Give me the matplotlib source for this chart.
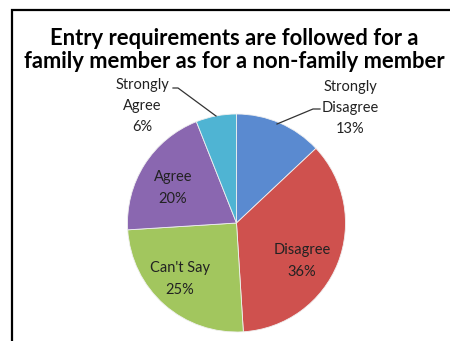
import matplotlib
matplotlib.use("Agg")
import matplotlib.pyplot as plt
from matplotlib.patches import Rectangle

categories = ["Strongly\nDisagree", "Disagree", "Can't Say", "Agree", "Strongly\nAgree"]
values = [13, 36, 25, 20, 6]
colors = ["#5A8AD0", "#CF514E", "#A2C65E", "#8A67B0", "#4FB4D3"]
title = "Entry requirements are followed for a\nfamily member as for a non-family member"

W, H = 450, 341
fig = plt.figure(figsize=(W / 100, H / 100), dpi=100)
fig.patch.set_facecolor("white")

# frame around the chart area
fig.patches.append(Rectangle((12 / W, -0.05), 1.0, (H - 10) / H + 0.05,
                             transform=fig.transFigure, fill=False,
                             edgecolor="black", linewidth=1.6))

fig.text(234 / W, 1 - 50 / H, title, ha="center", va="center",
         fontsize=15.8, fontweight="bold", family="Lato", linespacing=1.15)

cx, cy, r = 236.5, 223, 109
ax = fig.add_axes([(cx - r) / W, (H - cy - r) / H, 2 * r / W, 2 * r / H])
ax.pie(values, colors=colors, startangle=90, counterclock=False,
       wedgeprops=dict(linewidth=0.6, edgecolor="#f0f0f0"))
ax.set_xlim(-1, 1)
ax.set_ylim(-1, 1)
ax.set_aspect("equal")
ax.axis("off")


def px(x, y):
    return ((x - cx) / r, (cy - y) / r)


lbl = dict(ha="center", va="center", fontsize=10.5, family="Lato",
           color="#222222", linespacing=1.65)
texts = [f"{c}\n{v}%" for c, v in zip(categories, values)]

ax.text(*px(350, 108), texts[0], **lbl)
ax.text(*px(302, 261), texts[1], **lbl)
ax.text(*px(180, 279), texts[2], **lbl)
ax.text(*px(173, 188), texts[3], **lbl)
ax.text(*px(142, 106), texts[4], **lbl)

# leader lines
ax.plot(*zip(px(320, 109), px(313, 109), px(277, 124)), color="#333333",
        lw=0.9, clip_on=False)
ax.plot(*zip(px(173, 88), px(178, 88), px(216, 116)), color="#333333",
        lw=0.9, clip_on=False)

fig.savefig("out.png", dpi=100, facecolor="white")
